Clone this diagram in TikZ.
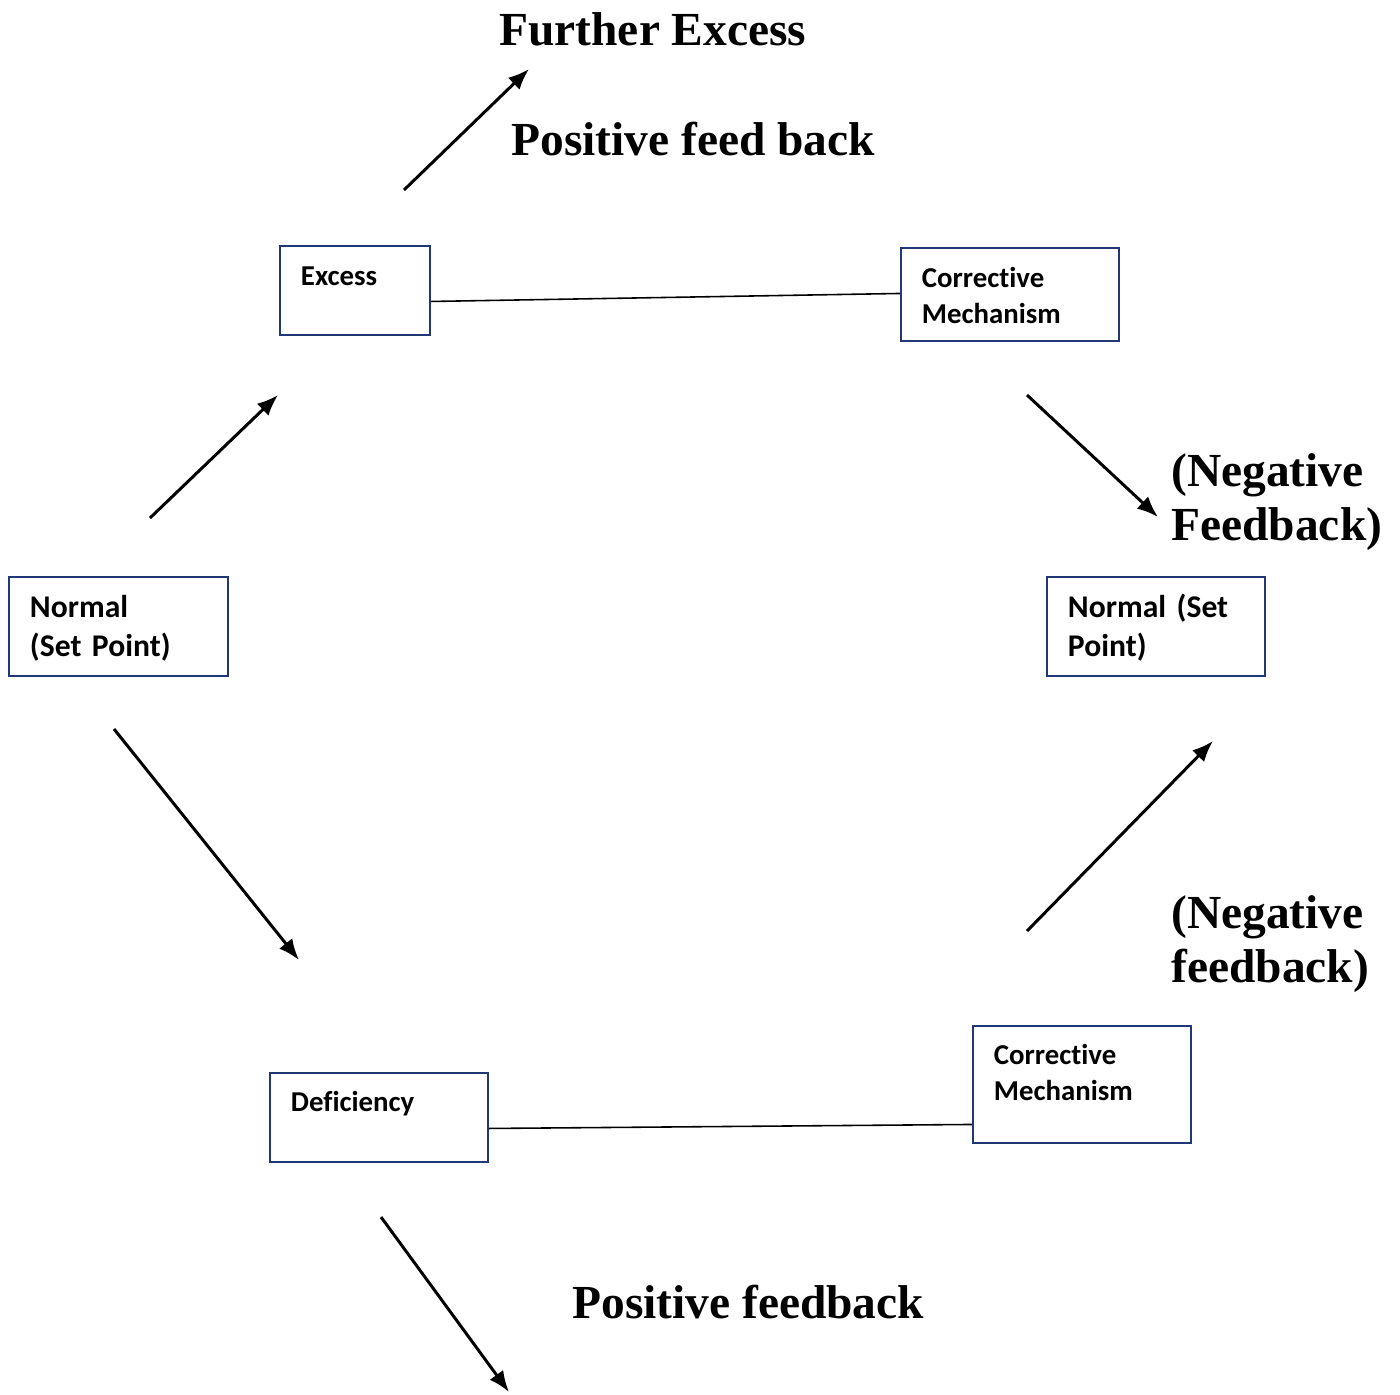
\documentclass[tikz,border=0pt]{standalone}
\usepackage{fontspec}
\setmainfont{Liberation Serif}
\newfontfamily\boxfont{Carlito}[Ligatures={NoCommon}]
\usetikzlibrary{positioning,arrows.meta}
\definecolor{boxblue}{RGB}{32,56,120}
% no t-i ligature, as in the picture
\newcommand{\corrword}{Correct\kern0pt ive}

\tikzset{
  box/.style={draw=boxblue, line width=1.1pt, anchor=north west, align=left,
    inner xsep=0.42cm, inner ysep=0pt},
  bigtext/.style={font=\boxfont\bfseries\fontsize{18}{22.1}\selectfont},
  smalltext/.style={font=\boxfont\bfseries\fontsize{16.4}{20.4}\selectfont},
  fblabel/.style={anchor=base west, inner sep=0pt, align=left,
    font=\bfseries\fontsize{27}{30.6}\selectfont},
  fbarrow/.style={-{Latex[length=12pt,width=9.5pt]}, line width=1.7pt},
  link/.style={line width=0.9pt}
}

\begin{document}
\begin{tikzpicture}[x=0.02cm, y=-0.02cm]
\useasboundingbox (0,0) rectangle (1400,1394);

% Boxes of the loop
\node[box, smalltext, text width=2.16cm, text height=0.8cm, text depth=0.98cm] (excess) at (279,245) {Excess};
\node[box, smalltext, text width=3.52cm, text height=0.8cm, text depth=1.06cm] (cmtop) at (900,247) {\corrword\\Mechanism};
\node[box, bigtext, text width=3.54cm, text height=0.82cm, text depth=1.16cm] (normleft) at (8,576) {Normal\\(Set Point)};
\node[box, bigtext, text width=3.52cm, text height=0.82cm, text depth=1.16cm] (normright) at (1046,576) {Normal (Set\\Point)};
\node[box, smalltext, text width=3.52cm, text height=0.78cm, text depth=1.0cm] (deficiency) at (269,1072) {Deficiency};
\node[box, smalltext, text width=3.52cm, text height=0.78cm, text depth=1.56cm] (cmbottom) at (972,1025) {\corrword\\Mechanism};

% Lines joining the boxes
\draw[link] ([yshift=-0.22cm]excess.east) -- ([yshift=0.02cm]cmtop.west);
\draw[link] ([yshift=-0.22cm]deficiency.east) -- ([yshift=-0.8cm]cmbottom.west);

% Arrow end points
\coordinate (a1s) at (404,190);  \coordinate (a1e) at (529,69);
\coordinate (a2s) at (150,518);  \coordinate (a2e) at (278,395);
\coordinate (a3s) at (1027,395); \coordinate (a3e) at (1158,517);
\coordinate (a4s) at (114,729);  \coordinate (a4e) at (299,960);
\coordinate (a5s) at (1027,931); \coordinate (a5e) at (1213,741);
\coordinate (a6s) at (381,1217); \coordinate (a6e) at (509,1392);

\draw[fbarrow] (a1s) -- (a1e);
\draw[fbarrow] (a2s) -- (a2e);
\draw[fbarrow] (a3s) -- (a3e);
\draw[fbarrow] (a4s) -- (a4e);
\draw[fbarrow] (a5s) -- (a5e);
\draw[fbarrow] (a6s) -- (a6e);

% Labels
\node[fblabel] (further) at (499,45) {Further Excess};
\node[fblabel] (posup) at (511,155) {Positive feed back};
\node[fblabel] (negup) at (1171,540) {(Negative\\Feedback)};
\node[fblabel] (negdown) at (1171,982) {(Negative\\feedback)};
\node[fblabel] (posdown) at (572,1318) {Positive feedback};
\end{tikzpicture}
\end{document}
